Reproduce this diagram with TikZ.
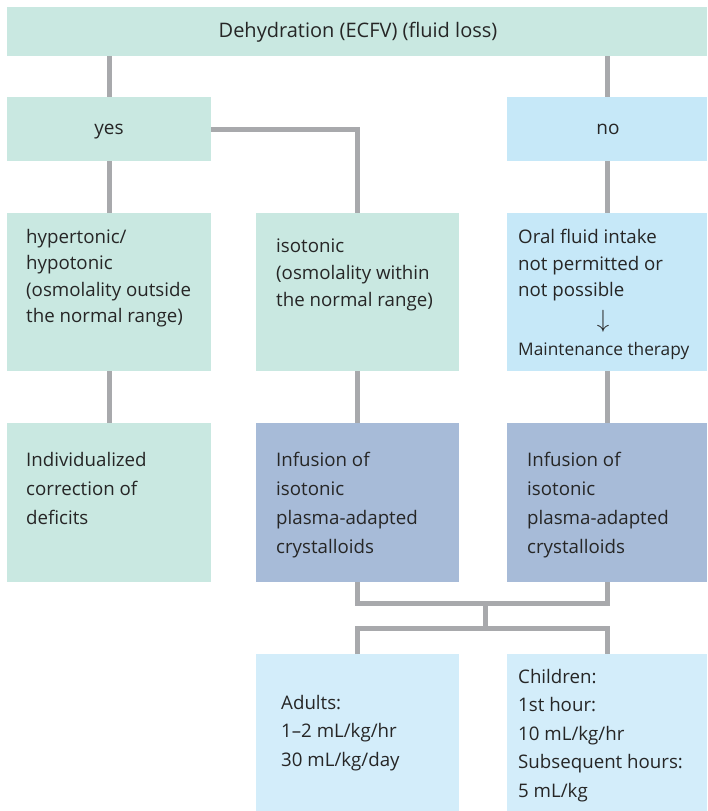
\documentclass[tikz,border=0pt]{standalone}
\usepackage{fontspec}
\setmainfont{Open Sans}
\definecolor{mint}{HTML}{C9E8E1}
\definecolor{skyb}{HTML}{C6E8F8}
\definecolor{steel}{HTML}{A7BBD8}
\definecolor{paleb}{HTML}{D3EDFA}
\definecolor{linegray}{HTML}{A8A9AC}
\begin{document}
\begin{tikzpicture}[x=1pt,y=-1pt,
  box/.style={draw=none, inner sep=0pt, outer sep=0pt, anchor=north west},
  txt/.style={anchor=north west, inner sep=0pt, align=left, text=black!85},
  conn/.style={draw=linegray, line width=5pt}]
\useasboundingbox (0,0) rectangle (707,811);
% boxes
\node[box, fill=mint, minimum width=700pt, minimum height=49pt] (top) at (7,7) {};
\node[box, fill=mint, minimum width=204pt, minimum height=64pt] (yes) at (7,97) {};
\node[box, fill=skyb, minimum width=200pt, minimum height=64pt] (no) at (507,97) {};
\node[box, fill=mint, minimum width=204pt, minimum height=158pt] (hyp) at (7,213) {};
\node[box, fill=mint, minimum width=203pt, minimum height=158pt] (iso) at (256,213) {};
\node[box, fill=skyb, minimum width=200pt, minimum height=158pt] (oral) at (507,213) {};
\node[box, fill=mint, minimum width=204pt, minimum height=159pt] (ind) at (7,423) {};
\node[box, fill=steel, minimum width=203pt, minimum height=159pt] (inf1) at (256,423) {};
\node[box, fill=steel, minimum width=200pt, minimum height=159pt] (inf2) at (507,423) {};
\node[box, fill=paleb, minimum width=203pt, minimum height=157pt] (adu) at (256,654) {};
\node[box, fill=paleb, minimum width=200pt, minimum height=157pt] (chi) at (507,654) {};
% texts
\node[anchor=base, inner sep=0pt, text=black!85, font=\fontsize{20}{26}\selectfont] (ttop) at (358,37) {Dehydration (ECFV) (fluid loss)};
\node[anchor=base, inner sep=0pt, text=black!85, font=\fontsize{19}{26}\selectfont] (tyes) at (109,134) {yes};
\node[anchor=base, inner sep=0pt, text=black!85, font=\fontsize{19}{26}\selectfont] (tno) at (608,134) {no};
\node[txt, font=\fontsize{18.7}{26.5}\selectfont] (thyp) at (26,229) {hypertonic/\\hypotonic\\(osmolality outside\\the normal range)};
\node[txt, font=\fontsize{18.7}{27}\selectfont] (tiso) at (276,239) {isotonic\\(osmolality within\\the normal range)};
\node[txt, font=\fontsize{18.7}{26.5}\selectfont] (toral) at (518,229) {Oral fluid intake\\not permitted or\\not possible};
\node[inner sep=0pt, text=black!85, font=\fontsize{25}{26}\selectfont] (tarr) at (603,321) {$\downarrow$};
\node[anchor=base west, inner sep=0pt, text=black!85, font=\fontsize{17.3}{22}\selectfont] (tmain) at (518,355) {Maintenance therapy};
\node[txt, font=\fontsize{18.7}{29}\selectfont] (tind) at (26,452) {Individualized\\correction of\\deficits};
\node[txt, font=\fontsize{18.7}{29}\selectfont] (tinf1) at (276,452) {Infusion of\\isotonic\\plasma-adapted\\crystalloids};
\node[txt, font=\fontsize{18.7}{29}\selectfont] (tinf2) at (527,452) {Infusion of\\isotonic\\plasma-adapted\\crystalloids};
\node[txt, font=\fontsize{18.7}{28.5}\selectfont] (tadu) at (281,695) {Adults:\\1--2 mL/kg/hr\\30 mL/kg/day};
\node[txt, font=\fontsize{18.7}{28.5}\selectfont] (tchi) at (518,669) {Children:\\1st hour:\\10 mL/kg/hr\\Subsequent hours:\\5 mL/kg};
% connectors
\draw[conn] (top.south -| yes.north) -- (yes.north);
\draw[conn] (top.south -| no.north) -- (no.north);
\draw[conn] (yes.east) -| (iso.north);
\draw[conn] (yes.south) -- (hyp.north);
\draw[conn] (no.south) -- (oral.north);
\draw[conn] (hyp.south) -- (ind.north);
\draw[conn] (iso.south) -- (inf1.north);
\draw[conn] (oral.south) -- (inf2.north);
\coordinate (j1) at (485,603);
\coordinate (j2) at (485,628);
\draw[conn] (inf1.south) -- (inf1.south |- j1) -- (inf2.south |- j1) -- (inf2.south);
\draw[conn] (j1) -- (j2);
\draw[conn] (adu.north) -- (adu.north |- j2) -- (chi.north |- j2) -- (chi.north);
\end{tikzpicture}
\end{document}
